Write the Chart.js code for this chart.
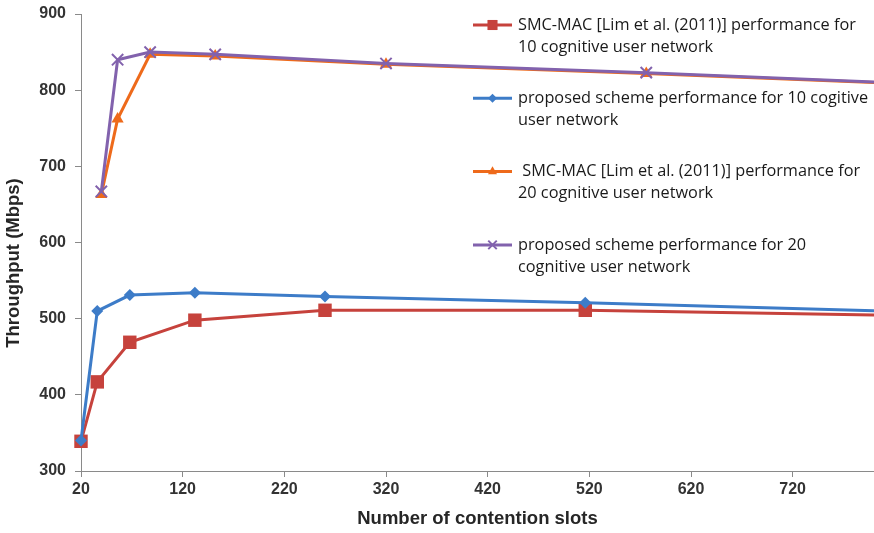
<!DOCTYPE html>
<html>
<head>
<meta charset="utf-8">
<script src="https://cdn.jsdelivr.net/npm/chart.js@4/dist/chart.umd.min.js"></script>
<style>
  html, body { margin: 0; padding: 0; background: #fff; }
  #wrap { width: 874px; height: 533px; position: relative; }
</style>
</head>
<body>
<div id="wrap"><canvas id="c" width="874" height="533"></canvas></div>
<script>
// ---- data ----
const slots10 = [20, 36, 68, 132, 260, 516, 1028];
const smcMac10 = [339, 417, 469, 498, 511, 511, 500];
const proposed10 = [340, 510, 531, 534, 529, 521, 502];

const slots20 = [40, 56, 88, 152, 320, 576, 1088];
const smcMac20 = [663, 762, 847, 845, 834, 822, 795];
const proposed20 = [667, 840, 850, 847, 835, 823, 795];

const xTicks = [20, 120, 220, 320, 420, 520, 620, 720];
const yTicks = [300, 400, 500, 600, 700, 800, 900];

const seriesNames = [
  'SMC-MAC [Lim et al. (2011)] performance for 10 cognitive user network',
  'proposed scheme performance for 10 cogitive user network',
  ' SMC-MAC [Lim et al. (2011)] performance for 20 cognitive user network',
  'proposed scheme performance for 20 cognitive user network'
];
const legendLines = [
  ['SMC-MAC [Lim et al. (2011)] performance for', '10 cognitive user network'],
  ['proposed scheme performance for 10 cogitive', 'user network'],
  [' SMC-MAC [Lim et al. (2011)] performance for', '20 cognitive user network'],
  ['proposed scheme performance for 20', 'cognitive user network']
];

const xTitle = 'Number of contention slots';
const yTitle = 'Throughput (Mbps)';

function pts(xs, ys) { return xs.map((x, i) => ({ x: x, y: ys[i] })); }

const RED = '#C6423C', BLUE = '#3D7CC8', ORANGE = '#EE6A1B', PURPLE = '#8262AD';

const datasets = [
  { label: seriesNames[0], data: pts(slots10, smcMac10), borderColor: RED, backgroundColor: RED,
    pointStyle: 'rect', pointRadius: 9.5, pointBorderWidth: 0, order: 4 },
  { label: seriesNames[1], data: pts(slots10, proposed10), borderColor: BLUE, backgroundColor: BLUE,
    pointStyle: 'rectRot', pointRadius: 6, pointBorderWidth: 0, order: 3 },
  { label: seriesNames[2], data: pts(slots20, smcMac20), borderColor: ORANGE, backgroundColor: ORANGE,
    pointStyle: 'triangle', pointRadius: 7, pointBorderWidth: 0, order: 2 },
  { label: seriesNames[3], data: pts(slots20, proposed20), borderColor: PURPLE, backgroundColor: PURPLE,
    pointStyle: 'crossRot', pointRadius: 8, pointBorderWidth: 2, order: 1 }
];
datasets.forEach(d => {
  d.borderWidth = 3; d.showLine = true; d.tension = 0; d.fill = false;
  d.clip = { left: 12, top: 12, right: 0, bottom: 12 };
});

const FONT = '"Liberation Sans", Arial';

const legendPlugin = {
  id: 'wrappedLegend',
  afterDraw(chart) {
    const ctx = chart.ctx;
    const x0 = 473, x1 = 512, tx = 518, top = 25, groupGap = 73.3, lineGap = 22;
    ctx.save();
    chart.data.datasets.forEach((ds, i) => {
      const y = top + i * groupGap;
      ctx.strokeStyle = ds.borderColor;
      ctx.lineWidth = 3;
      ctx.beginPath(); ctx.moveTo(x0, y); ctx.lineTo(x1, y); ctx.stroke();
      const opts = { pointStyle: ds.pointStyle, radius: ds.pointRadius * 0.75, borderWidth: ds.pointBorderWidth, rotation: 0 };
      ctx.fillStyle = ds.backgroundColor; ctx.strokeStyle = ds.borderColor;
      ctx.lineWidth = ds.pointBorderWidth;
      if (Chart.helpers && Chart.helpers.drawPoint) Chart.helpers.drawPoint(ctx, opts, (x0 + x1) / 2, y);
      ctx.fillStyle = '#1a1a1a';
      ctx.font = '16.3px "Open Sans"';
      ctx.textBaseline = 'middle';
      ctx.textAlign = 'left';
      legendLines[i].forEach((t, k) => ctx.fillText(t, tx, y + k * lineGap));
    });
    // vertical axis title
    ctx.translate(14, 263);
    ctx.rotate(-Math.PI / 2);
    ctx.fillStyle = '#262626';
    ctx.font = 'bold 18.5px ' + FONT;
    ctx.textAlign = 'center';
    ctx.textBaseline = 'middle';
    ctx.fillText(yTitle, 0, 0);
    ctx.restore();
  }
};

new Chart(document.getElementById('c'), {
  type: 'scatter',
  data: { datasets: datasets },
  options: {
    responsive: false,
    animation: false,
    devicePixelRatio: 1,
    layout: { autoPadding: false, padding: { top: 14, right: 0, left: 0, bottom: 0 } },
    plugins: { legend: { display: false }, tooltip: { enabled: false } },
    scales: {
      x: {
        type: 'linear', min: 20, max: 800,
        afterBuildTicks: s => { s.ticks = xTicks.map(v => ({ value: v })); },
        afterFit: s => { s.height = 62; s.paddingRight = 0; s.paddingLeft = 0; },
        border: { display: true, color: '#8a8a8a', width: 1 },
        grid: { display: true, drawOnChartArea: false, drawTicks: true, tickLength: 6, color: '#8a8a8a' },
        ticks: { padding: 3, maxRotation: 0, autoSkip: false, color: '#333',
                 font: { family: FONT, size: 16, weight: 'bold' } },
        title: { display: true, text: xTitle, color: '#262626', padding: { top: 4, bottom: 3 },
                 font: { family: FONT, size: 18.5, weight: 'bold' } }
      },
      y: {
        type: 'linear', min: 300, max: 900,
        afterBuildTicks: s => { s.ticks = yTicks.map(v => ({ value: v })); },
        afterFit: s => { s.width = 81; s.paddingTop = 0; s.paddingBottom = 0; },
        border: { display: true, color: '#8a8a8a', width: 1 },
        grid: { display: true, drawOnChartArea: false, drawTicks: true, tickLength: 6, color: '#8a8a8a' },
        ticks: { padding: 9, color: '#333',
                 font: { family: FONT, size: 16, weight: 'bold' } },
        title: { display: false }
      }
    }
  },
  plugins: [legendPlugin]
});
</script>
</body>
</html>
